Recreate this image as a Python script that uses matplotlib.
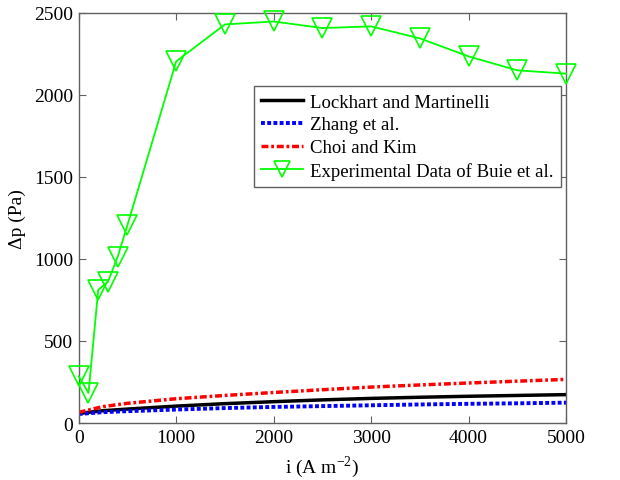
import matplotlib
matplotlib.use("Agg")
import matplotlib.pyplot as plt

plt.rcParams['font.family'] = ['Liberation Serif', 'DejaVu Serif']
plt.rcParams['mathtext.fontset'] = 'stix'

# Model curves
x_model = [0, 250, 500, 1000, 1500, 2000, 2500, 3000, 3500, 4000, 4500, 5000]
lockhart = [58, 75, 85, 103, 118, 130, 141, 150, 157, 163, 168, 173]
zhang = [55, 66, 72, 82, 91, 98, 103, 108, 113, 117, 120, 124]
choi = [65, 100, 120, 148, 168, 186, 203, 219, 232, 244, 255, 266]

# Experimental data
x_exp = [0, 100, 200, 300, 400, 500, 1000, 1500, 2000, 2500, 3000, 3500, 4000, 4500, 5000]
buie = [285, 183, 812, 862, 1014, 1207, 2205, 2430, 2448, 2408, 2418, 2345, 2235, 2150, 2130]

xticks = [0, 1000, 2000, 3000, 4000, 5000]
yticks = [0, 500, 1000, 1500, 2000, 2500]

fig = plt.figure(figsize=(6.2, 4.81), dpi=100)
ax = fig.add_axes([0.127, 0.1185, 0.786, 0.8525])

ax.plot(x_model, lockhart, color='black', lw=2.5, ls='-', label='Lockhart and Martinelli')
ax.plot(x_model, zhang, color='#0000ff', lw=2.8, ls=(0, (1, 0.6)), label='Zhang et al.')
ax.plot(x_model, choi, color='#ff0000', lw=2.5, ls=(0, (2, 0.8, 0.8, 0.8)), label='Choi and Kim')
ax.plot(x_exp, buie, color='#00ff00', lw=1.3, marker='v', markersize=14,
        markerfacecolor='none', markeredgecolor='#00ff00', markeredgewidth=1.2,
        clip_on=False, zorder=5, label='Experimental Data of Buie et al.')

ax.set_xlim(0, 5000)
ax.set_ylim(0, 2500)
ax.set_xticks(xticks)
ax.set_yticks(yticks)
ax.tick_params(direction='in', top=True, right=True, labelsize=14, color='#606060',
               length=5, width=0.8, pad=4)
for s in ax.spines.values():
    s.set_color('#606060')
    s.set_linewidth(1.0)

ax.set_xlabel('i (A m$^{\\mathregular{-2}}$)', fontsize=14, labelpad=6)
ax.set_ylabel('Δp (Pa)', fontsize=14, labelpad=6)

leg = ax.legend(loc='upper right', bbox_to_anchor=(0.99, 0.822), borderaxespad=0,
                fontsize=13.5, fancybox=False, framealpha=1, edgecolor='#606060',
                handlelength=2.2, handletextpad=0.4, labelspacing=0.3, borderpad=0.4,
                markerscale=0.8)
leg.get_frame().set_linewidth(1.0)
leg.set_zorder(10)

fig.savefig('out.png', dpi=100)
